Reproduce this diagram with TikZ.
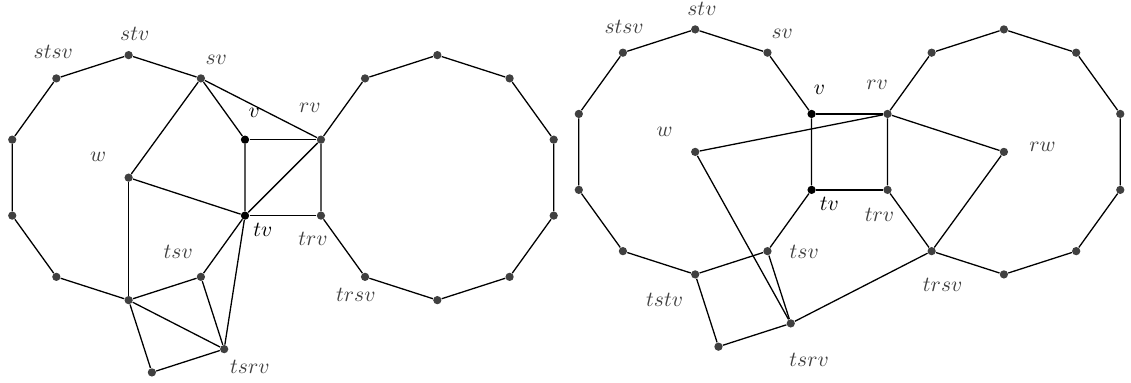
\documentclass[tikz,border=0pt]{standalone}
\usepackage{amsmath,amssymb}
\usepackage{xcolor}
\usepackage{tikz}
\usetikzlibrary{positioning}

\begin{document}
\begin{tikzpicture}[
  dot/.style={circle, fill=black!75, inner sep=0pt, minimum size=1.35mm},
  base/.style={circle, fill=black, inner sep=0pt, minimum size=1.35mm},
  lbl/.style={text=black!75, inner sep=1pt},
  blbl/.style={text=black, inner sep=1pt},
  edge/.style={line width=0.6pt},
]
  \useasboundingbox (0,0) rectangle (18.465,-6.253);
  % Figura izquierda: decagono de w
  \node[dot]  (stv)   at ( 2.10, -0.90) {};
  \node[dot]  (sv)    at ( 3.28, -1.28) {};
  \node[base] (v)     at ( 4.00, -2.28) {};
  \node[base] (tv)    at ( 4.00, -3.52) {};
  \node[dot]  (tsv)   at ( 3.28, -4.52) {};
  \node[dot]  (tstv)  at ( 2.10, -4.90) {};
  \node[dot]  (la)    at ( 0.92, -4.52) {};
  \node[dot]  (lb)    at ( 0.20, -3.52) {};
  \node[dot]  (lc)    at ( 0.20, -2.28) {};
  \node[dot]  (stsv)  at ( 0.92, -1.28) {};
  \node[dot]  (w)     at ( 2.10, -2.90) {};
  % Figura izquierda: decagono de rv
  \node[dot]  (ra)    at ( 7.14, -0.90) {};
  \node[dot]  (rb)    at ( 8.32, -1.28) {};
  \node[dot]  (rc)    at ( 9.04, -2.28) {};
  \node[dot]  (rd)    at ( 9.04, -3.52) {};
  \node[dot]  (re)    at ( 8.32, -4.52) {};
  \node[dot]  (rf)    at ( 7.14, -4.90) {};
  \node[dot]  (trsv)  at ( 5.96, -4.52) {};
  \node[dot]  (trv)   at ( 5.24, -3.52) {};
  \node[dot]  (rv)    at ( 5.24, -2.28) {};
  \node[dot]  (rg)    at ( 5.96, -1.28) {};
  % Figura izquierda: cuadrado inferior
  \node[dot]  (tsrv)  at ( 3.66, -5.70) {};
  \node[dot]  (sq)    at ( 2.48, -6.08) {};
  % Etiquetas izquierda
  \node[lbl]  at ( 2.20, -0.56) {$stv$};
  \node[lbl]  at ( 0.87, -0.85) {$stsv$};
  \node[lbl]  at ( 3.53, -0.98) {$sv$};
  \node[blbl] at ( 4.15, -1.84) {$v$};
  \node[lbl]  at ( 5.06, -1.76) {$rv$};
  \node[lbl]  at ( 1.60, -2.56) {$w$};
  \node[lbl]  at ( 2.91, -4.11) {$tsv$};
  \node[blbl] at ( 4.29, -3.76) {$tv$};
  \node[lbl]  at ( 5.11, -3.90) {$trv$};
  \node[lbl]  at ( 5.81, -4.82) {$trsv$};
  \node[lbl]  at ( 4.08, -5.99) {$tsrv$};
  % Aristas izquierda
  \draw[edge] (stv) -- (sv) -- (v) -- (tv) -- (tsv) -- (tstv) -- (la) -- (lb) -- (lc) -- (stsv) -- (stv);
  \draw[edge] (ra) -- (rb) -- (rc) -- (rd) -- (re) -- (rf) -- (trsv) -- (trv) -- (rv) -- (rg) -- (ra);
  \draw[edge] (v) -- (rv);
  \draw[edge] (tv) -- (trv);
  \draw[edge] (tv) -- (rv);
  \draw[edge] (sv) -- (rv);
  \draw[edge] (w) -- (sv);
  \draw[edge] (w) -- (tv);
  \draw[edge] (w) -- (tstv);
  \draw[edge] (tv) -- (tsrv);
  \draw[edge] (tsv) -- (tsrv);
  \draw[edge] (tstv) -- (tsrv);
  \draw[edge] (tstv) -- (sq) -- (tsrv);

  % Figura derecha: decagono de w
  \node[dot]  (stv2)  at (11.35, -0.48) {};
  \node[dot]  (sv2)   at (12.53, -0.86) {};
  \node[base] (v2)    at (13.25, -1.86) {};
  \node[base] (tv2)   at (13.25, -3.10) {};
  \node[dot]  (tsv2)  at (12.53, -4.10) {};
  \node[dot]  (tstv2) at (11.35, -4.48) {};
  \node[dot]  (la2)   at (10.17, -4.10) {};
  \node[dot]  (lb2)   at ( 9.45, -3.10) {};
  \node[dot]  (lc2)   at ( 9.45, -1.86) {};
  \node[dot]  (stsv2) at (10.17, -0.86) {};
  \node[dot]  (w2)    at (11.35, -2.48) {};
  % Figura derecha: decagono de rw
  \node[dot]  (ra2)   at (16.39, -0.48) {};
  \node[dot]  (rb2)   at (17.57, -0.86) {};
  \node[dot]  (rc2)   at (18.29, -1.86) {};
  \node[dot]  (rd2)   at (18.29, -3.10) {};
  \node[dot]  (re2)   at (17.57, -4.10) {};
  \node[dot]  (rf2)   at (16.39, -4.48) {};
  \node[dot]  (trsv2) at (15.21, -4.10) {};
  \node[dot]  (trv2)  at (14.49, -3.10) {};
  \node[dot]  (rv2)   at (14.49, -1.86) {};
  \node[dot]  (rg2)   at (15.21, -0.86) {};
  \node[dot]  (rw2)   at (16.39, -2.48) {};
  % Figura derecha: cuadrado inferior
  \node[dot]  (tsrv2) at (12.91, -5.28) {};
  \node[dot]  (sq2)   at (11.73, -5.66) {};
  % Etiquetas derecha
  \node[lbl]  at (11.46, -0.14) {$stv$};
  \node[lbl]  at (10.19, -0.44) {$stsv$};
  \node[lbl]  at (12.77, -0.56) {$sv$};
  \node[blbl] at (13.38, -1.47) {$v$};
  \node[lbl]  at (10.85, -2.15) {$w$};
  \node[blbl] at (13.54, -3.33) {$tv$};
  \node[lbl]  at (13.13, -4.11) {$tsv$};
  \node[lbl]  at (10.85, -4.89) {$tstv$};
  \node[lbl]  at (13.21, -5.87) {$tsrv$};
  \node[lbl]  at (14.32, -1.39) {$rv$};
  \node[lbl]  at (17.02, -2.40) {$rw$};
  \node[lbl]  at (14.36, -3.50) {$trv$};
  \node[lbl]  at (15.39, -4.65) {$trsv$};
  % Aristas derecha
  \draw[edge] (stv2) -- (sv2) -- (v2) -- (tv2) -- (tsv2) -- (tstv2) -- (la2) -- (lb2) -- (lc2) -- (stsv2) -- (stv2);
  \draw[edge] (ra2) -- (rb2) -- (rc2) -- (rd2) -- (re2) -- (rf2) -- (trsv2) -- (trv2) -- (rv2) -- (rg2) -- (ra2);
  \draw[edge] (v2) -- (rv2);
  \draw[edge] (tv2) -- (trv2);
  \draw[edge] (w2) -- (rv2);
  \draw[edge] (w2) -- (tsrv2);
  \draw[edge] (rv2) -- (rw2) -- (trsv2);
  \draw[edge] (tsv2) -- (tsrv2);
  \draw[edge] (tstv2) -- (sq2) -- (tsrv2);
  \draw[edge] (tsrv2) -- (trsv2);
\end{tikzpicture}
\end{document}
